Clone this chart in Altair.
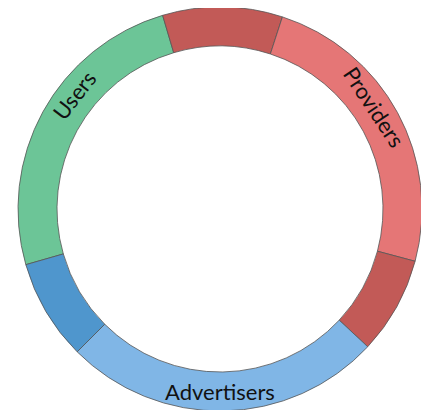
import math
import altair as alt
import pandas as pd

# Segments of the ring (angles in degrees, clockwise from top)
seg_names = ["Users", "Users+Providers", "Providers", "Providers+Advertisers", "Advertisers", "Advertisers+Users"]
seg_start = [-106, -16.5, 18, 105, 133, 225]
seg_end = [-16.5, 18, 105, 133, 225, 254]
seg_colors = ["#6cc597", "#c25a57", "#e57676", "#c25a57", "#80b6e6", "#4f96cd"]

# Labels
label_text = ["Users", "Providers", "Advertisers"]
label_theta = [308, 56.5, 180]
label_angle = [308, 56.5, 0]

segs = pd.DataFrame({"name": seg_names, "start": seg_start, "end": seg_end, "color": seg_colors})
labels = pd.DataFrame({"text": label_text, "mid": label_theta, "ang": label_angle})

CX, CY = 212, 201
R_OUT, R_IN = 202, 163

theta_scale = alt.Scale(domain=[0, 360], range=[0, 2 * math.pi])

ring = alt.Chart(segs).mark_arc(
    radius=R_OUT, radius2=R_IN, stroke="#555555", strokeWidth=0.8
).encode(
    theta=alt.Theta("start:Q", scale=theta_scale, stack=None),
    theta2="end:Q",
    color=alt.Color("color:N", scale=None),
    x=alt.value(CX),
    y=alt.value(CY),
)

text = alt.Chart(labels).mark_text(
    radius=(R_OUT + R_IN) / 2 + 1, font="Lato", fontSize=22, color="#111111",
    align="center", baseline="middle"
).encode(
    theta=alt.Theta("mid:Q", scale=theta_scale, stack=None),
    text="text:N",
    angle=alt.Angle("ang:Q", scale=None),
    x=alt.value(CX),
    y=alt.value(CY),
)

chart = alt.layer(ring, text).properties(
    width=413, height=402,
    autosize=alt.AutoSizeParams(type="none"),
    padding=0,
).configure_view(stroke=None)

chart.save("out.html", embed_options={"renderer": "svg", "actions": False})
